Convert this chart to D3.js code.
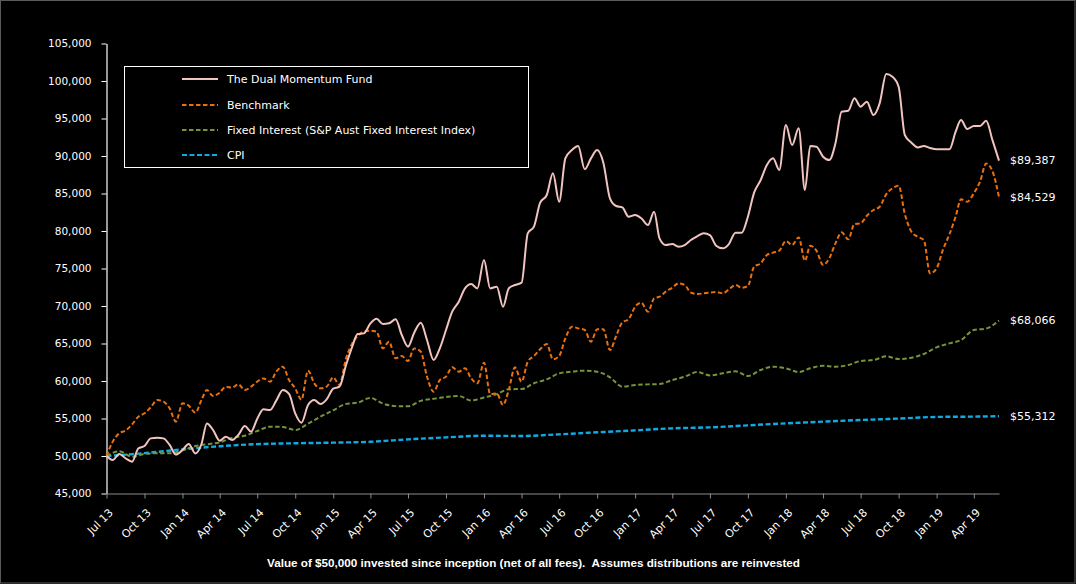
<!DOCTYPE html>
<html>
<head>
<meta charset="utf-8">
<script src="https://cdn.jsdelivr.net/npm/d3@7"></script>
<style>
  body { margin: 0; background: #000; }
  svg { display: block; }
</style>
</head>
<body>
<main></main>
<script>
/************************************************************************
 Data
************************************************************************/
const seriesNames = ['The Dual Momentum Fund', 'Benchmark', 'Fixed Interest (S&P Aust Fixed Interest Index)', 'CPI'];

// fund + benchmark are sampled twice a month (1st and 16th) from Jul 2013
const fundValues = [
  50000, 49470, 50270, 49700, 49250, 51000, 51330, 52350, 52440, 52350,
  51470, 50200, 50800, 51600, 50350, 51600, 54350, 53470, 52040, 52580,
  52130, 52800, 54000, 53250, 54980, 56220, 56130, 57380, 58800, 58270,
  55690, 54440, 56800, 57470, 56930, 57550, 58980, 59240, 62130, 64580,
  66270, 66350, 67690, 68310, 67600, 67690, 68220, 66130, 64580, 66440,
  67780, 65470, 62800, 64350, 66800, 69240, 70580, 72350, 72930, 72350,
  76130, 72350, 72580, 69910, 72350, 72800, 73110, 79690, 80580, 83770,
  84800, 87690, 83910, 89680, 90800, 91330, 88220, 89680, 90800, 89110,
  84350, 83330, 83150, 81910, 82130, 81690, 80800, 82570, 79020, 78130,
  78260, 77910, 78130, 78800, 79330, 79690, 79460, 78040, 77690, 78260,
  79780, 79780, 81910, 85110, 86800, 88800, 89690, 88130, 94130, 91460,
  93690, 85460, 91330, 91240, 89910, 89460, 91690, 95910, 96040, 97690,
  96570, 97240, 95460, 97020, 100930, 100570, 99240, 92800, 91770, 91150,
  91330, 91060, 90890, 90890, 90890, 93240, 94800, 93600, 94000, 94000,
  94700, 92150, 89387
];

const benchmarkValues = [
  50000, 51910, 53020, 53380, 54220, 55240, 55690, 56490, 57470, 57240,
  56350, 54580, 57020, 56710, 55780, 57470, 58800, 58000, 58440, 59240,
  59110, 59550, 58800, 59240, 59910, 60350, 59910, 61240, 61910, 60130,
  59000, 57500, 61380, 59690, 59020, 59240, 60490, 59470, 63020, 65020,
  66000, 66580, 66710, 66580, 64350, 65240, 63020, 63330, 62670, 64350,
  63910, 60580, 58580, 60130, 60580, 61820, 61240, 61690, 60350, 59690,
  62440, 58270, 58350, 56800, 58800, 61820, 59910, 62580, 63330, 64220,
  64930, 62890, 63330, 65690, 67240, 67020, 66800, 65240, 66890, 66890,
  64130, 66000, 67820, 68220, 69910, 70440, 69240, 71020, 71240, 71910,
  72440, 73020, 72800, 71780, 71600, 71690, 71780, 71870, 71690, 72220,
  72800, 72440, 72660, 75240, 75690, 76800, 77110, 77380, 78660, 78130,
  79150, 76040, 78040, 77380, 75470, 76350, 78350, 79820, 78890, 80930,
  81020, 82040, 82800, 83240, 84890, 85690, 86040, 82260, 79910, 79240,
  78800, 74350, 75020, 77460, 79550, 81910, 84220, 83910, 85020, 86580,
  89000, 88000, 84529
];

// fixed interest is monthly (1st of each month) from Jul 2013
const fixedValues = [
  50000, 50620, 49910, 50270, 50360, 50360, 50760, 51330, 51560, 51820,
  52400, 52710, 53330, 53910, 53870, 53470, 54310, 55240, 56100, 56950,
  57110, 57750, 57000, 56650, 56620, 57350, 57620, 57860, 58000, 57400,
  57800, 58250, 58900, 58930, 59700, 60220, 61020, 61240, 61380, 61240,
  60490, 59240, 59470, 59550, 59600, 60130, 60580, 61200, 60750, 61020,
  61290, 60670, 61470, 61910, 61690, 61200, 61690, 62040, 61910, 62130,
  62670, 62800, 63290, 62930, 63110, 63600, 64490, 65020, 65470, 66800,
  67000, 68066
];

// CPI is quarterly, plus the last reading
const cpiDates = [
  '2013-07-01', '2013-10-01', '2014-01-01', '2014-04-01', '2014-07-01', '2014-10-01',
  '2015-01-01', '2015-04-01', '2015-07-01', '2015-10-01', '2016-01-01', '2016-04-01',
  '2016-07-01', '2016-10-01', '2017-01-01', '2017-04-01', '2017-07-01', '2017-10-01',
  '2018-01-01', '2018-04-01', '2018-07-01', '2018-10-01', '2019-01-01', '2019-04-01',
  '2019-06-01'
];
const cpiValues = [
  50000, 50380, 50890, 51300, 51580, 51700, 51780, 51900, 52220, 52480,
  52700, 52670, 52890, 53160, 53420, 53690, 53820, 54090, 54350, 54580,
  54800, 54990, 55210, 55250, 55312
];

const endLabels = ['$89,387', '$84,529', '$68,066', '$55,312'];
const yTicks = d3.range(45000, 105001, 5000);
const footnote = 'Value of $50,000 invested since inception (net of all fees).  Assumes distributions are reinvested';

// constants
const width = 1076;
const height = 584;
const startDate = new Date(2013, 6, 1);
const endDate = new Date(2019, 5, 1);
const colors = ['#F2C4C0', '#E8700F', '#77933C', '#12A9E3'];
const dashes = [null, '4.5,2.5', '4.5,2.5', '5,2.5'];
const font = 'DejaVu Sans, sans-serif';

// dates for the twice a month / monthly series
const halfMonth = i => new Date(2013, 6 + Math.floor(i / 2), i % 2 ? 16 : 1);
const month = i => new Date(2013, 6 + i, 1);
const parse = d3.timeParse('%Y-%m-%d');

const series = [
  fundValues.map((v, i) => ({ date: halfMonth(i), value: v })),
  benchmarkValues.map((v, i) => ({ date: halfMonth(i), value: v })),
  fixedValues.map((v, i) => ({ date: month(i), value: v })),
  cpiValues.map((v, i) => ({ date: parse(cpiDates[i]), value: v }))
];


// create the svg element
const svg = d3.select('main')
  .append('svg')
  .attr('width', width)
  .attr('height', height)
  .style('background', '#000');

// faint chart-area border
svg.append('rect')
  .attr('x', 0.5)
  .attr('y', 0.5)
  .attr('width', width - 1.5)
  .attr('height', height - 1.5)
  .attr('fill', 'none')
  .attr('stroke', '#5a5a5a');


/************************************************************************
 Scales
************************************************************************/
const xScale = d3.scaleTime()
  .domain([startDate, endDate])
  .range([106.5, 999]);

const yScale = d3.scaleLinear()
  .domain([45000, 105000])
  .range([493.5, 43.5]);


/************************************************************************
 Axes
************************************************************************/
const yAxis = d3.axisLeft(yScale)
  .tickValues(yTicks)
  .tickFormat(d3.format(','))
  .tickSize(5)
  .tickSizeOuter(0)
  .tickPadding(10);

const gy = svg.append('g')
  .attr('transform', `translate(${xScale.range()[0]},0)`)
  .call(yAxis);

gy.selectAll('path, line').attr('stroke', '#fff');
gy.selectAll('text')
  .attr('fill', '#fff')
  .attr('font-family', font)
  .attr('font-size', 10.5);

const quarterTicks = d3.timeMonth.every(3).range(startDate, new Date(2019, 4, 1));

const xAxis = d3.axisBottom(xScale)
  .tickValues(quarterTicks)
  .tickSize(5)
  .tickSizeOuter(0)
  .tickFormat(d3.timeFormat('%b %y'));

const gx = svg.append('g')
  .attr('transform', `translate(0,${yScale.range()[0]})`)
  .call(xAxis);

gx.selectAll('path, line').attr('stroke', '#8c8c8c');
gx.selectAll('text')
  .attr('fill', '#fff')
  .attr('font-family', font)
  .attr('font-size', 11)
  .attr('text-anchor', 'end')
  .attr('dy', '0.35em')
  .attr('y', 0)
  .attr('transform', 'translate(4,17) rotate(-45)');

d3.selectAll('.domain').attr('stroke-width', 1.2);


/************************************************************************
 Lines
************************************************************************/
const line = d3.line()
  .x(d => xScale(d.date))
  .y(d => yScale(d.value))
  .curve(d3.curveMonotoneX);

// draw back to front so the fund sits on top
[3, 2, 1, 0].forEach(i => {
  svg.append('path')
    .datum(series[i])
    .attr('d', line)
    .attr('fill', 'none')
    .attr('stroke', colors[i])
    .attr('stroke-width', i === 3 ? 2.4 : 2)
    .attr('stroke-dasharray', dashes[i])
    .attr('stroke-linejoin', 'round');
});

// values at the end of each line
series.forEach((s, i) => {
  const last = s[s.length - 1];
  svg.append('text')
    .text(endLabels[i])
    .attr('x', 1010)
    .attr('y', yScale(last.value))
    .attr('dy', '0.35em')
    .attr('fill', '#fff')
    .attr('font-family', font)
    .attr('font-size', 11);
});


/************************************************************************
 Legend
************************************************************************/
const legend = svg.append('g');

legend.append('rect')
  .attr('x', 124.5)
  .attr('y', 66.5)
  .attr('width', 404)
  .attr('height', 101)
  .attr('fill', '#000')
  .attr('stroke', '#fff');

const legendRows = [79, 105, 130, 155];

seriesNames.forEach((name, i) => {
  legend.append('line')
    .attr('x1', 182)
    .attr('x2', 218)
    .attr('y1', legendRows[i])
    .attr('y2', legendRows[i])
    .attr('stroke', colors[i])
    .attr('stroke-width', 2)
    .attr('stroke-dasharray', dashes[i]);

  legend.append('text')
    .text(name)
    .attr('x', 227)
    .attr('y', legendRows[i])
    .attr('dy', '0.35em')
    .attr('fill', '#fff')
    .attr('font-family', font)
    .attr('font-size', 11);
});


/************************************************************************
 Footnote
************************************************************************/
svg.append('text')
  .text(footnote)
  .attr('x', 267)
  .attr('y', 567)
  .attr('fill', '#fff')
  .attr('font-family', 'Liberation Sans, Arial, sans-serif')
  .attr('font-weight', 'bold')
  .attr('font-size', 11)
  .attr('textLength', 533)
  .attr('lengthAdjust', 'spacingAndGlyphs')
  .style('white-space', 'pre');
</script>
</body>
</html>
